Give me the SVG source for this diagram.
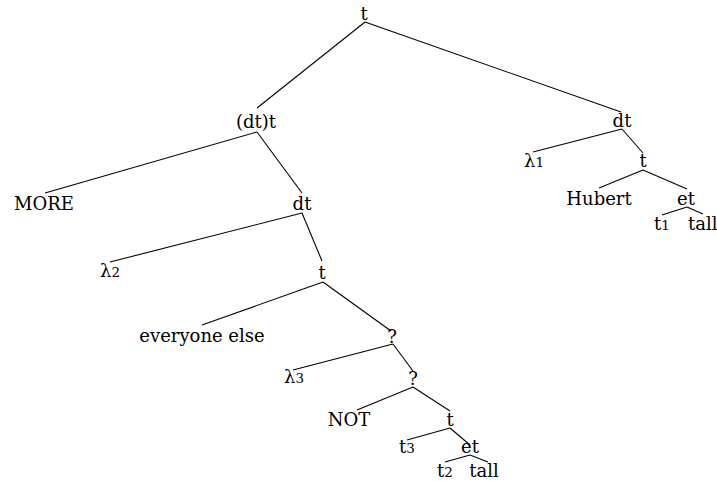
<svg xmlns="http://www.w3.org/2000/svg" width="717" height="481" viewBox="0 0 717 481">
<style>
text{font-family:"DejaVu Serif","Liberation Serif",serif;font-size:18px;fill:#000;text-anchor:middle}
.n{font-size:13.5px}
#edges line{stroke:#000;stroke-width:1.1}
</style>
<rect width="717" height="481" fill="#fff"/>
<g id="edges">
<line x1="365" y1="22" x2="257" y2="108"/>
<line x1="365" y1="22" x2="621" y2="112"/>
<line x1="257" y1="132" x2="45" y2="193"/>
<line x1="257" y1="132" x2="302" y2="193"/>
<line x1="302" y1="213" x2="110" y2="262"/>
<line x1="302" y1="213" x2="322" y2="261"/>
<line x1="622" y1="129" x2="533" y2="152"/>
<line x1="622" y1="129" x2="643" y2="153"/>
<line x1="643" y1="170" x2="599" y2="188"/>
<line x1="643" y1="170" x2="687" y2="189"/>
<line x1="687" y1="207" x2="662" y2="215"/>
<line x1="687" y1="207" x2="703" y2="214"/>
<line x1="323" y1="282" x2="202" y2="325"/>
<line x1="323" y1="282" x2="391" y2="331"/>
<line x1="393" y1="344" x2="293" y2="370"/>
<line x1="393" y1="344" x2="413" y2="371"/>
<line x1="413" y1="387" x2="357" y2="410"/>
<line x1="413" y1="387" x2="450" y2="411"/>
<line x1="450" y1="428" x2="407" y2="440"/>
<line x1="450" y1="428" x2="470" y2="445"/>
<line x1="470" y1="455" x2="445" y2="462"/>
<line x1="470" y1="455" x2="488" y2="462"/>
</g>
<g id="n-root"><text x="364" y="20">t</text></g>
<g id="n-dtt"><text x="256" y="128">(dt)t</text></g>
<g id="n-dt-r"><text x="622" y="127">dt</text></g>
<g id="n-more"><text x="44" y="210">MORE</text></g>
<g id="n-dt-l"><text x="302" y="210">dt</text></g>
<g id="n-lambda1"><text x="534" y="167">λ<tspan class="n">1</tspan></text></g>
<g id="n-t-r"><text x="643" y="167">t</text></g>
<g id="n-lambda2"><text x="110" y="277">λ<tspan class="n">2</tspan></text></g>
<g id="n-t-l"><text x="322" y="279">t</text></g>
<g id="n-hubert"><text x="599" y="205">Hubert</text></g>
<g id="n-et-r"><text x="686" y="205">et</text></g>
<g id="n-t1"><text x="662" y="230">t<tspan class="n">1</tspan></text></g>
<g id="n-tall-r"><text x="688" y="230" style="text-anchor:start">tall</text></g>
<g id="n-everyone"><text x="202" y="342">everyone else</text></g>
<g id="n-q1"><text x="392" y="343">?</text></g>
<g id="n-lambda3"><text x="294" y="383">λ<tspan class="n">3</tspan></text></g>
<g id="n-q2"><text x="413" y="385">?</text></g>
<g id="n-not"><text x="349" y="426">NOT</text></g>
<g id="n-t4"><text x="450" y="426">t</text></g>
<g id="n-t3"><text x="407" y="453">t<tspan class="n">3</tspan></text></g>
<g id="n-et"><text x="470" y="453">et</text></g>
<g id="n-t2"><text x="445" y="477">t<tspan class="n">2</tspan></text></g>
<g id="n-tall"><text x="484" y="477">tall</text></g>
</svg>
